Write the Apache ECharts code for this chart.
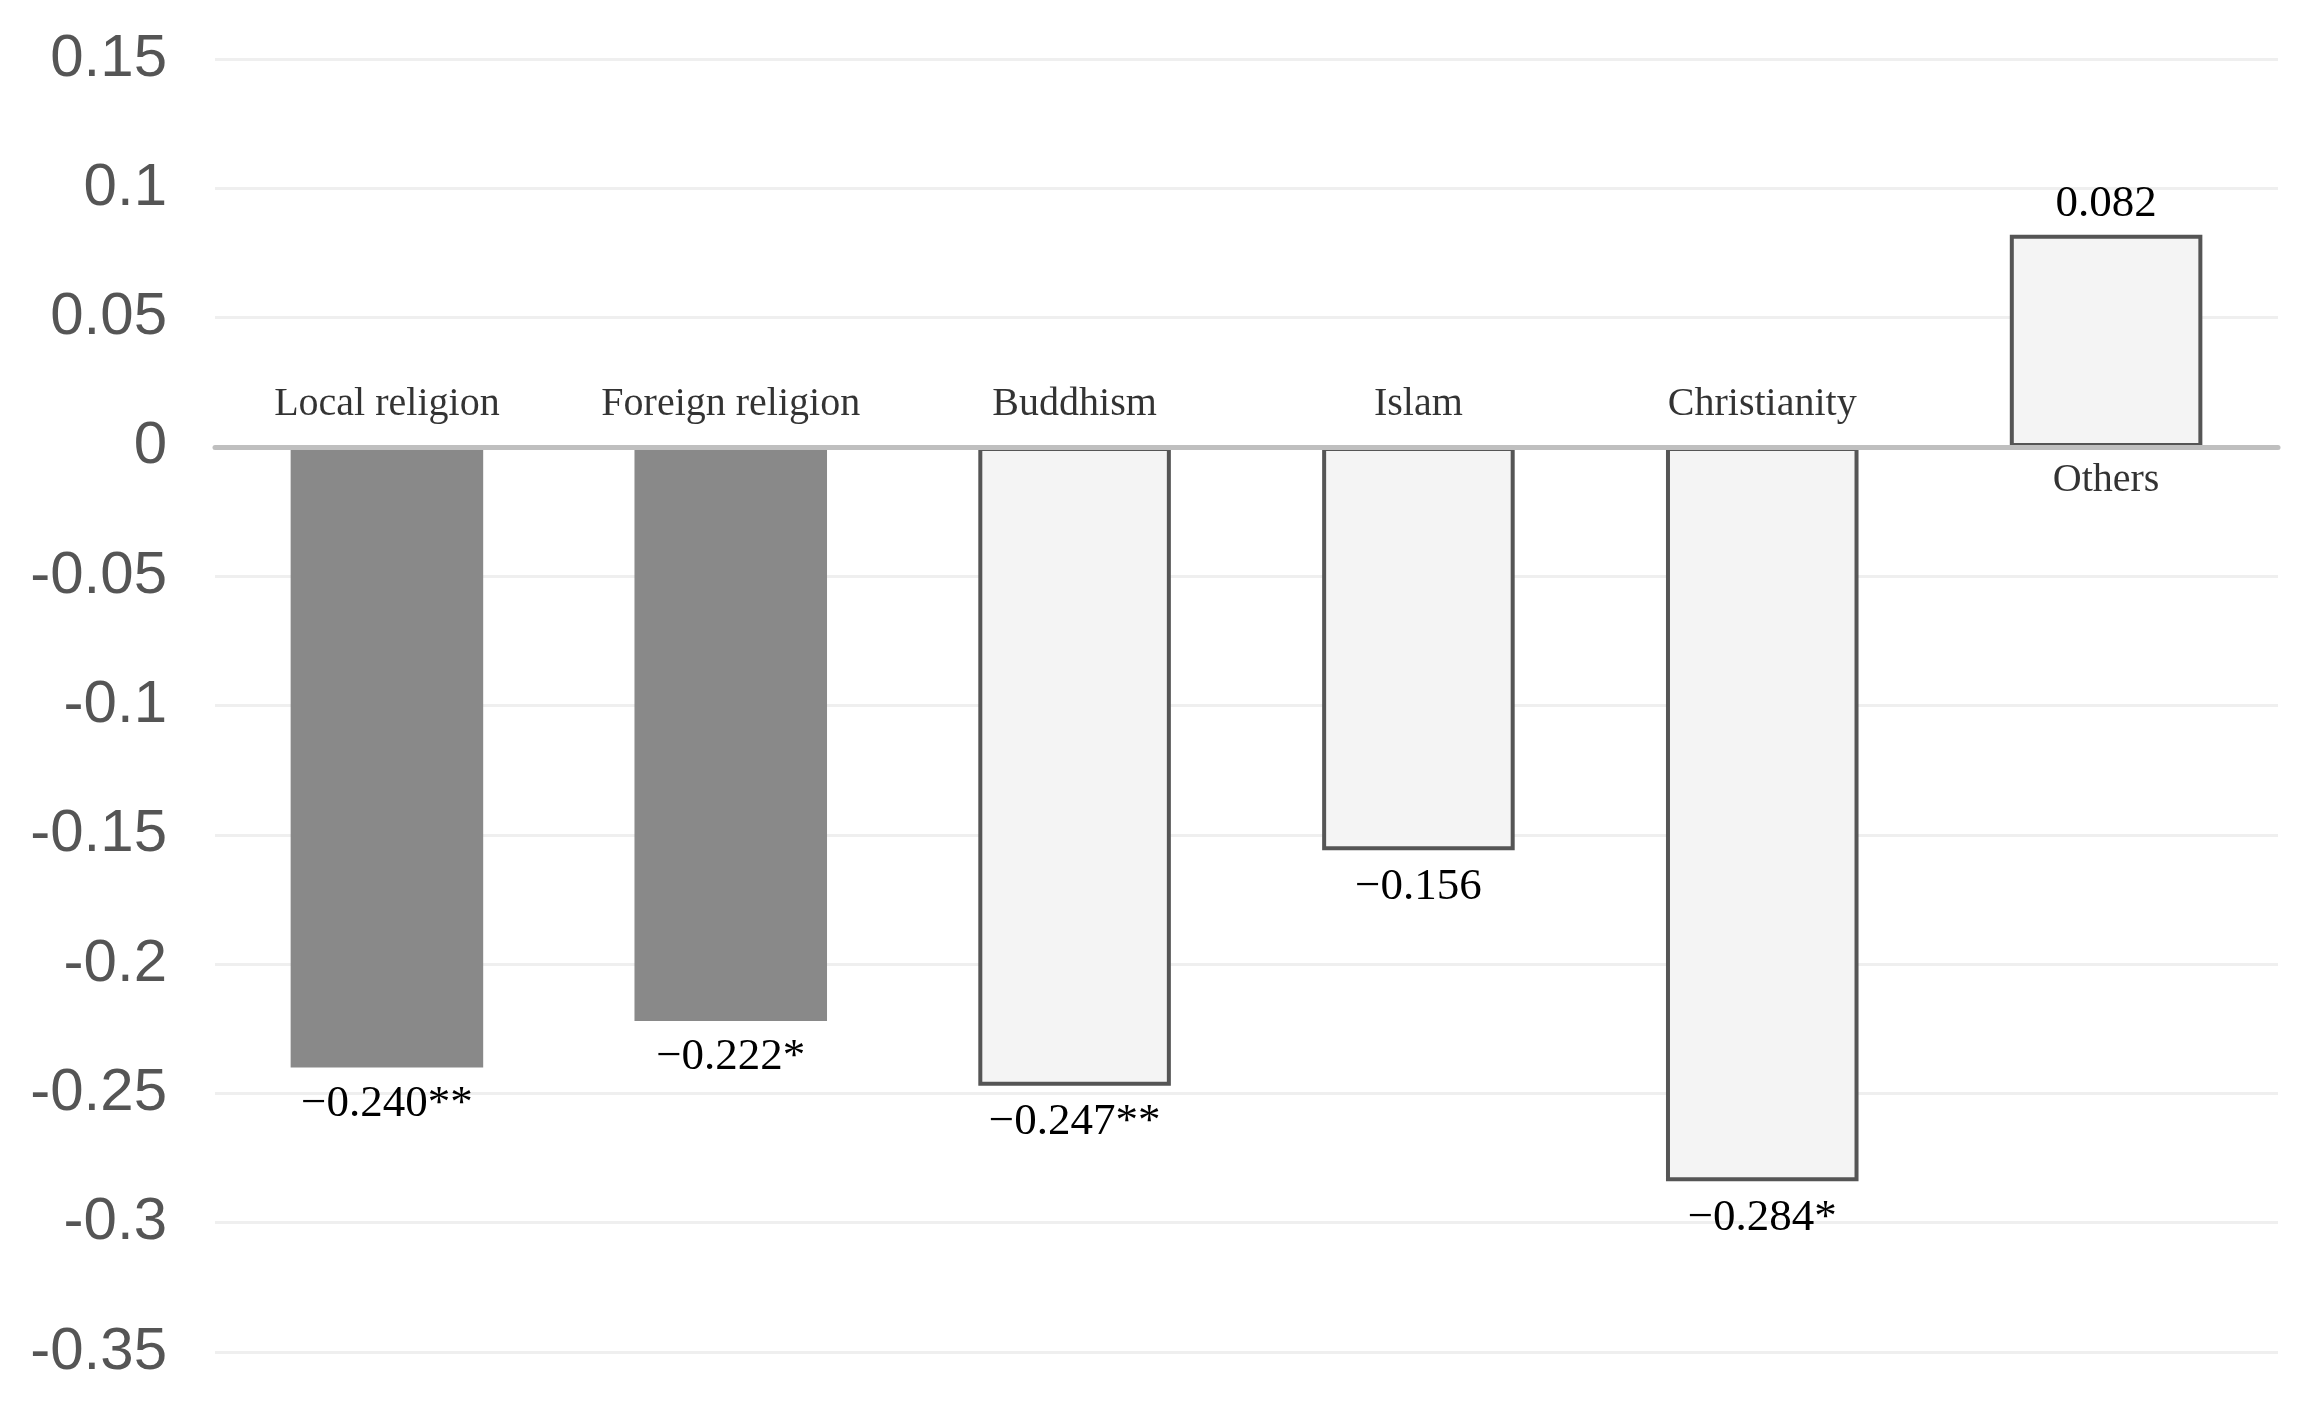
<!DOCTYPE html>
<html>
<head>
<meta charset="utf-8">
<script src="https://cdn.jsdelivr.net/npm/echarts@6/dist/echarts.min.js"></script>
<style>
html,body{margin:0;padding:0;background:#fff;}
#chart{width:2324px;height:1401px;}
</style>
</head>
<body>
<div id="chart"></div>
<script>
const categories = ['Local religion', 'Foreign religion', 'Buddhism', 'Islam', 'Christianity', 'Others'];
const values = [-0.240, -0.222, -0.247, -0.156, -0.284, 0.082];
const stars = ['**', '*', '**', '', '*', ''];
const highlighted = [true, true, false, false, false, false];
const yMin = -0.35, yMax = 0.15, yStep = 0.05;

const chart = echarts.init(document.getElementById('chart'));

const barData = values.map((v, i) => ({
  value: v,
  itemStyle: highlighted[i]
    ? { color: '#898989', borderWidth: 0 }
    : { color: '#f4f4f4', borderColor: '#555555', borderWidth: 4 },
  label: { position: v < 0 ? 'bottom' : 'top', distance: v < 0 ? 14 : 8 }
}));

const nameData = values.map((v, i) => ({
  value: 0,
  label: { position: v < 0 ? 'top' : 'bottom', distance: v < 0 ? 22 : 14 }
}));

chart.setOption({
  animation: false,
  backgroundColor: '#ffffff',
  grid: { left: 215, right: 46, top: 59, bottom: 49 },
  xAxis: {
    type: 'category',
    data: categories,
    z: 5,
    axisLine: { onZero: true, lineStyle: { color: '#bfbfbf', width: 5 } },
    axisTick: { show: false },
    axisLabel: { show: false },
    splitLine: { show: false }
  },
  yAxis: {
    type: 'value',
    min: yMin,
    max: yMax,
    interval: yStep,
    axisLine: { show: false },
    axisTick: { show: false },
    splitLine: { lineStyle: { color: '#efefef', width: 3 } },
    axisLabel: {
      fontFamily: 'Liberation Sans',
      fontSize: 60,
      color: '#555555',
      margin: 48,
      formatter: v => String(parseFloat(v.toFixed(2)))
    }
  },
  series: [
    {
      type: 'bar',
      data: barData,
      barWidth: '56%',
      z: 2,
      label: {
        show: true,
        fontFamily: 'Liberation Serif',
        fontSize: 45,
        color: '#000',
        formatter: p => (p.value < 0 ? '\u2212' : '') + Math.abs(p.value).toFixed(3) + stars[p.dataIndex]
      }
    },
    {
      type: 'scatter',
      data: nameData,
      symbolSize: 0,
      z: 6,
      silent: true,
      label: {
        show: true,
        fontFamily: 'Liberation Serif',
        fontSize: 40,
        color: '#000',
        formatter: p => categories[p.dataIndex]
      }
    }
  ]
});
</script>
</body>
</html>
